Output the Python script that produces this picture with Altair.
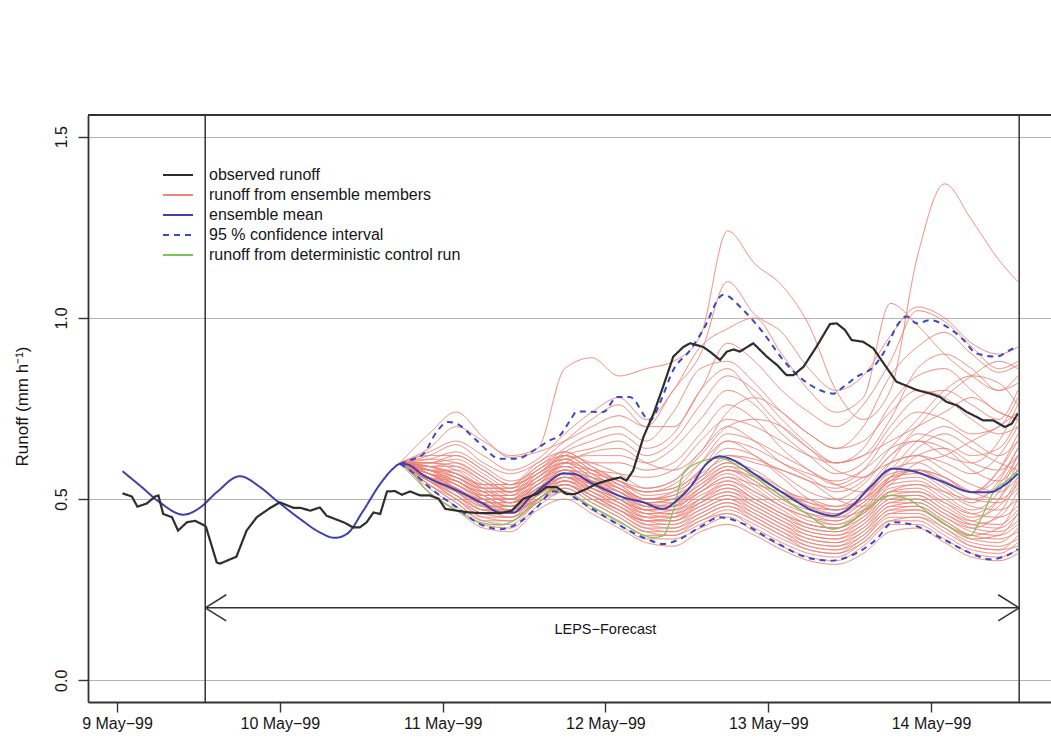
import altair as alt
import pandas as pd

FONT = "Liberation Sans"
INK = "#161616"

# Time axis: hours counted from 9 May 1999, 00:00
day_ticks_h = [0, 24, 48, 72, 96, 120]
day_labels = ["9 May\u221299", "10 May\u221299", "11 May\u221299",
              "12 May\u221299", "13 May\u221299", "14 May\u221299"]
runoff_ticks = [0.0, 0.5, 1.0, 1.5]

series_names = ["observed runoff", "runoff from ensemble members", "ensemble mean",
                "95 % confidence interval", "runoff from deterministic control run"]
series_colors = ["#2e2e2e", "#ee8377", "#3f3fae", "#3c48c4", "#7cc35a"]
series_dashes = [[1, 0], [1, 0], [1, 0], [6, 5], [1, 0]]
series_widths = [2.2, 1.0, 2.0, 2.0, 1.3]

# Observed runoff (mm/h)
obs_t = [0.8, 2.2, 3.0, 4.4, 5.6, 6.1, 6.8, 8.1, 9.0, 10.3,
         11.5, 12.7, 13.1, 14.7, 15.2, 17.6, 19.1, 20.6, 22.6, 24.0,
         26.0, 27.0, 28.5, 29.9, 30.9, 33.4, 34.8, 35.8, 36.8, 37.8,
         38.8, 39.8, 41.0, 42.0, 43.2, 44.7, 46.1, 47.4, 48.4, 50.1,
         52.0, 54.0, 56.5, 58.2, 59.9, 61.9, 63.3, 64.8, 66.3, 67.5,
         69.2, 70.7, 72.2, 74.2, 75.1, 76.1, 77.6, 79.1, 80.5, 82.0,
         83.5, 84.5, 86.4, 87.4, 88.9, 89.9, 90.9, 91.8, 93.8, 95.8,
         97.3, 98.7, 99.7, 101.2, 103.1, 105.1, 106.1, 107.3, 108.3, 110.0,
         111.5, 113.0, 114.9, 117.9, 119.9, 121.3, 122.3, 123.8, 125.3, 126.7,
         127.7, 129.2, 130.9, 131.9, 132.8]
obs_v = [0.516, 0.507, 0.479, 0.488, 0.507, 0.510, 0.459, 0.450, 0.413, 0.436,
         0.440, 0.429, 0.424, 0.325, 0.322, 0.341, 0.413, 0.450, 0.476, 0.491,
         0.476, 0.476, 0.468, 0.477, 0.454, 0.436, 0.422, 0.422, 0.436, 0.463,
         0.459, 0.521, 0.522, 0.512, 0.521, 0.510, 0.510, 0.501, 0.473, 0.468,
         0.463, 0.461, 0.461, 0.468, 0.501, 0.514, 0.533, 0.533, 0.514, 0.514,
         0.528, 0.542, 0.551, 0.560, 0.551, 0.579, 0.671, 0.736, 0.810, 0.893,
         0.920, 0.930, 0.920, 0.907, 0.884, 0.907, 0.913, 0.907, 0.930, 0.893,
         0.870, 0.842, 0.842, 0.865, 0.920, 0.983, 0.985, 0.967, 0.939, 0.934,
         0.916, 0.875, 0.824, 0.801, 0.791, 0.782, 0.768, 0.759, 0.740, 0.727,
         0.717, 0.717, 0.699, 0.708, 0.736]

# Ensemble mean
mean_t = [0.8, 3.4, 6.3, 9.8, 12.2, 14.7, 18.1, 21.1, 23.5, 27.0,
          29.9, 32.1, 33.9, 36.3, 38.8, 40.7, 41.7, 42.7, 45.2, 50.1,
          54.0, 56.5, 58.4, 60.9, 63.3, 65.8, 67.3, 69.7, 72.2, 74.6,
          77.6, 80.5, 82.5, 84.5, 86.9, 88.9, 90.9, 94.3, 99.2, 102.6,
          105.6, 108.1, 111.0, 114.4, 116.9, 121.3, 126.2, 128.7, 130.7, 132.8]
mean_v = [0.577, 0.537, 0.491, 0.457, 0.476, 0.519, 0.563, 0.533, 0.496, 0.445,
          0.408, 0.393, 0.404, 0.468, 0.542, 0.584, 0.597, 0.596, 0.565, 0.524,
          0.487, 0.463, 0.463, 0.505, 0.542, 0.571, 0.570, 0.547, 0.524, 0.505,
          0.491, 0.473, 0.496, 0.533, 0.597, 0.618, 0.607, 0.565, 0.505, 0.468,
          0.454, 0.477, 0.533, 0.584, 0.579, 0.551, 0.519, 0.519, 0.537, 0.570]

# Upper and lower bounds of the 95 % interval
ci_up_t = [41.7, 43.2, 45.2, 47.1, 48.8, 50.1, 53.0, 56.5, 58.9, 61.4,
           63.8, 65.3, 66.8, 67.8, 71.7, 73.7, 75.6, 78.6, 80.0, 82.0,
           84.5, 86.4, 89.4, 92.3, 95.3, 98.2, 101.2, 103.6, 105.6, 107.1,
           109.0, 111.5, 113.5, 114.9, 116.4, 117.9, 119.9, 122.3, 124.8, 126.7,
           129.7, 131.6, 132.8]
ci_up_v = [0.597, 0.607, 0.625, 0.685, 0.713, 0.708, 0.662, 0.611, 0.611, 0.634,
           0.662, 0.676, 0.717, 0.742, 0.740, 0.782, 0.782, 0.717, 0.764, 0.856,
           0.911, 0.967, 1.064, 1.022, 0.958, 0.884, 0.828, 0.801, 0.791, 0.810,
           0.837, 0.865, 0.920, 0.976, 1.004, 0.985, 0.994, 0.976, 0.939, 0.902,
           0.893, 0.911, 0.921]
ci_lo_t = [41.7, 43.2, 46.6, 50.1, 53.5, 56.5, 58.9, 61.9, 64.3, 66.3,
           69.7, 74.6, 78.1, 80.5, 83.0, 85.9, 88.9, 91.8, 96.7, 101.7,
           105.1, 108.1, 112.0, 114.4, 116.9, 121.3, 126.2, 128.7, 131.6, 132.8]
ci_lo_v = [0.597, 0.579, 0.524, 0.477, 0.431, 0.417, 0.431, 0.477, 0.521, 0.514,
           0.477, 0.422, 0.390, 0.376, 0.390, 0.422, 0.450, 0.436, 0.385, 0.339,
           0.330, 0.343, 0.390, 0.436, 0.431, 0.394, 0.348, 0.334, 0.348, 0.362]

# Deterministic control run
ctl_t = [41.7, 43.2, 45.2, 50.1, 53.5, 56.5, 58.4, 61.4, 64.3, 65.8,
         69.7, 74.6, 79.1, 80.5, 82.0, 83.5, 85.9, 88.9, 91.8, 96.7,
         101.7, 105.6, 107.6, 110.5, 114.0, 116.4, 119.9, 123.8, 125.7, 127.2,
         129.2, 131.2, 132.8]
ctl_v = [0.597, 0.579, 0.533, 0.468, 0.436, 0.429, 0.440, 0.487, 0.525, 0.519,
         0.482, 0.431, 0.394, 0.399, 0.468, 0.570, 0.602, 0.613, 0.588, 0.524,
         0.459, 0.417, 0.431, 0.473, 0.510, 0.501, 0.459, 0.413, 0.399, 0.440,
         0.519, 0.551, 0.579]

# Ensemble members, all sampled on the same hours
member_t = [41.7, 46, 50, 54, 58, 62, 66, 70, 74, 78, 82, 86,
            90, 94, 98, 102, 106, 110, 114, 118, 122, 126, 130, 132.8]
member_runs = [
    [0.60, 0.64, 0.70, 0.66, 0.62, 0.64, 0.86, 0.89, 0.84, 0.86, 0.88, 0.95, 1.24, 1.15, 1.09, 0.98, 0.80, 0.72, 0.80, 1.17, 1.37, 1.27, 1.16, 1.10],
    [0.60, 0.68, 0.74, 0.67, 0.615, 0.63, 0.66, 0.70, 0.73, 0.70, 0.80, 0.90, 1.10, 1.01, 0.96, 0.86, 0.80, 0.84, 0.95, 1.03, 1.00, 0.93, 0.90, 0.92],
    [0.60, 0.63, 0.66, 0.62, 0.58, 0.61, 0.68, 0.74, 0.78, 0.72, 0.80, 0.92, 0.97, 1.00, 0.90, 0.80, 0.74, 0.78, 1.04, 0.98, 0.90, 0.84, 0.80, 0.82],
    [0.60, 0.62, 0.65, 0.60, 0.57, 0.60, 0.66, 0.72, 0.76, 0.70, 0.70, 0.80, 0.93, 0.88, 0.80, 0.74, 0.70, 0.76, 0.88, 1.02, 0.99, 0.92, 0.86, 0.88],
    [0.60, 0.61, 0.63, 0.59, 0.55, 0.58, 0.64, 0.68, 0.70, 0.66, 0.74, 0.86, 0.88, 0.82, 0.74, 0.68, 0.64, 0.70, 0.84, 0.92, 0.96, 0.90, 0.85, 0.87],
    [0.60, 0.60, 0.62, 0.58, 0.54, 0.57, 0.62, 0.64, 0.66, 0.62, 0.66, 0.76, 0.84, 0.80, 0.72, 0.65, 0.60, 0.62, 0.72, 0.86, 0.90, 0.86, 0.80, 0.84],
    [0.60, 0.60, 0.61, 0.57, 0.53, 0.56, 0.61, 0.62, 0.62, 0.60, 0.64, 0.72, 0.80, 0.76, 0.68, 0.62, 0.57, 0.60, 0.70, 0.78, 0.80, 0.76, 0.72, 0.80],
    [0.60, 0.59, 0.60, 0.56, 0.52, 0.55, 0.60, 0.60, 0.60, 0.58, 0.60, 0.68, 0.76, 0.72, 0.64, 0.58, 0.54, 0.58, 0.68, 0.74, 0.72, 0.68, 0.70, 0.78],
    [0.60, 0.59, 0.59, 0.55, 0.51, 0.54, 0.59, 0.58, 0.57, 0.56, 0.58, 0.66, 0.72, 0.70, 0.66, 0.62, 0.60, 0.62, 0.66, 0.70, 0.74, 0.78, 0.74, 0.72],
    [0.60, 0.58, 0.58, 0.54, 0.50, 0.53, 0.58, 0.57, 0.55, 0.53, 0.55, 0.63, 0.70, 0.66, 0.60, 0.56, 0.52, 0.55, 0.64, 0.72, 0.80, 0.84, 0.82, 0.76],
    [0.60, 0.58, 0.57, 0.53, 0.49, 0.52, 0.57, 0.56, 0.54, 0.52, 0.53, 0.60, 0.68, 0.66, 0.62, 0.58, 0.54, 0.52, 0.58, 0.66, 0.70, 0.66, 0.62, 0.66],
    [0.60, 0.57, 0.56, 0.52, 0.49, 0.52, 0.56, 0.55, 0.53, 0.50, 0.51, 0.58, 0.66, 0.62, 0.56, 0.50, 0.47, 0.50, 0.60, 0.68, 0.66, 0.62, 0.64, 0.72],
    [0.60, 0.57, 0.55, 0.51, 0.48, 0.51, 0.56, 0.54, 0.52, 0.49, 0.50, 0.56, 0.62, 0.60, 0.58, 0.55, 0.50, 0.48, 0.56, 0.62, 0.64, 0.60, 0.58, 0.62],
    [0.60, 0.56, 0.55, 0.50, 0.47, 0.50, 0.55, 0.53, 0.50, 0.47, 0.48, 0.55, 0.60, 0.58, 0.53, 0.48, 0.45, 0.47, 0.54, 0.60, 0.62, 0.66, 0.70, 0.74],
    [0.60, 0.56, 0.54, 0.50, 0.47, 0.50, 0.55, 0.52, 0.49, 0.46, 0.47, 0.53, 0.58, 0.55, 0.50, 0.46, 0.44, 0.48, 0.55, 0.58, 0.56, 0.52, 0.58, 0.66],
    [0.60, 0.56, 0.53, 0.49, 0.46, 0.50, 0.54, 0.51, 0.48, 0.45, 0.46, 0.52, 0.56, 0.54, 0.52, 0.50, 0.48, 0.50, 0.56, 0.64, 0.68, 0.64, 0.60, 0.58],
    [0.60, 0.55, 0.53, 0.48, 0.46, 0.50, 0.54, 0.51, 0.47, 0.44, 0.45, 0.50, 0.55, 0.52, 0.48, 0.45, 0.43, 0.46, 0.52, 0.54, 0.52, 0.50, 0.54, 0.62],
    [0.60, 0.55, 0.52, 0.48, 0.45, 0.49, 0.54, 0.50, 0.47, 0.44, 0.44, 0.49, 0.53, 0.50, 0.46, 0.43, 0.42, 0.45, 0.51, 0.52, 0.49, 0.46, 0.50, 0.58],
    [0.60, 0.60, 0.59, 0.55, 0.52, 0.56, 0.62, 0.60, 0.57, 0.53, 0.55, 0.62, 0.70, 0.72, 0.70, 0.64, 0.58, 0.56, 0.62, 0.70, 0.78, 0.84, 0.88, 0.86],
    [0.60, 0.61, 0.60, 0.56, 0.52, 0.55, 0.60, 0.63, 0.64, 0.60, 0.58, 0.63, 0.74, 0.78, 0.74, 0.68, 0.64, 0.66, 0.74, 0.80, 0.78, 0.72, 0.68, 0.70],
    [0.60, 0.62, 0.62, 0.58, 0.54, 0.57, 0.63, 0.66, 0.68, 0.64, 0.68, 0.80, 0.86, 0.78, 0.70, 0.64, 0.60, 0.64, 0.76, 0.84, 0.86, 0.80, 0.74, 0.72],
    [0.60, 0.59, 0.57, 0.53, 0.50, 0.54, 0.60, 0.58, 0.55, 0.52, 0.54, 0.60, 0.66, 0.64, 0.60, 0.57, 0.55, 0.58, 0.64, 0.66, 0.62, 0.60, 0.66, 0.76],
    [0.60, 0.58, 0.56, 0.52, 0.49, 0.53, 0.58, 0.56, 0.53, 0.50, 0.52, 0.58, 0.64, 0.62, 0.57, 0.52, 0.50, 0.54, 0.62, 0.66, 0.64, 0.58, 0.55, 0.60],
    [0.60, 0.57, 0.55, 0.51, 0.48, 0.52, 0.57, 0.55, 0.52, 0.49, 0.50, 0.56, 0.62, 0.61, 0.58, 0.55, 0.53, 0.56, 0.60, 0.62, 0.60, 0.57, 0.62, 0.70],
    [0.60, 0.57, 0.54, 0.50, 0.48, 0.52, 0.57, 0.54, 0.51, 0.48, 0.49, 0.54, 0.59, 0.57, 0.53, 0.49, 0.47, 0.50, 0.56, 0.58, 0.55, 0.52, 0.56, 0.64],
    [0.60, 0.56, 0.53, 0.49, 0.47, 0.51, 0.56, 0.53, 0.50, 0.47, 0.48, 0.53, 0.58, 0.56, 0.52, 0.48, 0.46, 0.49, 0.55, 0.58, 0.56, 0.52, 0.50, 0.54],
    [0.60, 0.52, 0.47, 0.42, 0.41, 0.47, 0.50, 0.46, 0.42, 0.38, 0.37, 0.41, 0.43, 0.40, 0.36, 0.33, 0.32, 0.35, 0.41, 0.42, 0.38, 0.34, 0.33, 0.35],
    [0.60, 0.53, 0.48, 0.43, 0.42, 0.48, 0.52, 0.47, 0.43, 0.39, 0.39, 0.42, 0.45, 0.41, 0.37, 0.34, 0.33, 0.37, 0.43, 0.43, 0.39, 0.35, 0.34, 0.36],
    [0.60, 0.54, 0.49, 0.44, 0.43, 0.49, 0.52, 0.48, 0.44, 0.40, 0.40, 0.43, 0.46, 0.42, 0.38, 0.35, 0.34, 0.38, 0.44, 0.44, 0.40, 0.36, 0.35, 0.38],
    [0.60, 0.54, 0.49, 0.44, 0.44, 0.49, 0.53, 0.49, 0.45, 0.41, 0.40, 0.44, 0.46, 0.43, 0.39, 0.36, 0.35, 0.38, 0.44, 0.45, 0.41, 0.37, 0.36, 0.37],
    [0.60, 0.54, 0.50, 0.45, 0.44, 0.50, 0.53, 0.49, 0.45, 0.41, 0.41, 0.44, 0.47, 0.44, 0.40, 0.36, 0.35, 0.39, 0.45, 0.45, 0.42, 0.37, 0.36, 0.40],
    [0.60, 0.55, 0.50, 0.45, 0.45, 0.50, 0.54, 0.50, 0.46, 0.42, 0.41, 0.45, 0.48, 0.44, 0.40, 0.37, 0.36, 0.39, 0.46, 0.46, 0.42, 0.38, 0.37, 0.39],
    [0.60, 0.55, 0.50, 0.46, 0.45, 0.51, 0.54, 0.50, 0.46, 0.42, 0.42, 0.45, 0.48, 0.45, 0.41, 0.37, 0.36, 0.40, 0.46, 0.47, 0.43, 0.39, 0.38, 0.42],
    [0.60, 0.55, 0.51, 0.46, 0.46, 0.51, 0.55, 0.51, 0.47, 0.43, 0.42, 0.46, 0.49, 0.45, 0.41, 0.38, 0.37, 0.40, 0.47, 0.47, 0.43, 0.39, 0.40, 0.46],
    [0.60, 0.55, 0.51, 0.47, 0.46, 0.52, 0.55, 0.51, 0.47, 0.43, 0.43, 0.46, 0.49, 0.46, 0.42, 0.38, 0.37, 0.41, 0.47, 0.48, 0.44, 0.40, 0.39, 0.41],
    [0.60, 0.56, 0.51, 0.47, 0.47, 0.52, 0.56, 0.52, 0.48, 0.44, 0.43, 0.47, 0.50, 0.46, 0.42, 0.39, 0.38, 0.41, 0.48, 0.48, 0.44, 0.40, 0.42, 0.50],
    [0.60, 0.56, 0.52, 0.47, 0.47, 0.53, 0.56, 0.52, 0.48, 0.44, 0.44, 0.47, 0.50, 0.47, 0.43, 0.39, 0.38, 0.42, 0.48, 0.49, 0.45, 0.41, 0.40, 0.43],
    [0.60, 0.56, 0.52, 0.48, 0.48, 0.53, 0.57, 0.53, 0.49, 0.45, 0.44, 0.48, 0.51, 0.47, 0.43, 0.40, 0.39, 0.42, 0.49, 0.49, 0.45, 0.42, 0.46, 0.55],
    [0.60, 0.56, 0.52, 0.48, 0.48, 0.54, 0.57, 0.53, 0.49, 0.45, 0.45, 0.48, 0.51, 0.48, 0.44, 0.40, 0.39, 0.43, 0.49, 0.50, 0.46, 0.42, 0.41, 0.44],
    [0.60, 0.57, 0.53, 0.49, 0.49, 0.54, 0.58, 0.54, 0.50, 0.46, 0.45, 0.49, 0.52, 0.48, 0.44, 0.41, 0.40, 0.43, 0.50, 0.50, 0.46, 0.43, 0.45, 0.52],
    [0.60, 0.57, 0.53, 0.49, 0.49, 0.55, 0.58, 0.54, 0.50, 0.46, 0.46, 0.49, 0.52, 0.49, 0.45, 0.41, 0.40, 0.44, 0.50, 0.51, 0.47, 0.43, 0.42, 0.46],
    [0.60, 0.57, 0.53, 0.50, 0.50, 0.55, 0.59, 0.55, 0.51, 0.47, 0.46, 0.50, 0.53, 0.49, 0.45, 0.42, 0.41, 0.44, 0.51, 0.51, 0.47, 0.44, 0.50, 0.60],
    [0.60, 0.57, 0.54, 0.50, 0.50, 0.56, 0.59, 0.55, 0.51, 0.47, 0.47, 0.50, 0.54, 0.50, 0.46, 0.42, 0.41, 0.45, 0.52, 0.52, 0.48, 0.44, 0.43, 0.47],
    [0.60, 0.58, 0.54, 0.51, 0.51, 0.56, 0.60, 0.56, 0.52, 0.48, 0.47, 0.51, 0.54, 0.50, 0.46, 0.43, 0.42, 0.46, 0.52, 0.53, 0.49, 0.45, 0.48, 0.56],
    [0.60, 0.58, 0.55, 0.51, 0.51, 0.57, 0.60, 0.56, 0.52, 0.48, 0.48, 0.52, 0.55, 0.51, 0.47, 0.43, 0.42, 0.46, 0.53, 0.54, 0.50, 0.46, 0.45, 0.48],
    [0.60, 0.58, 0.55, 0.52, 0.52, 0.57, 0.61, 0.57, 0.53, 0.49, 0.48, 0.52, 0.56, 0.52, 0.48, 0.44, 0.43, 0.47, 0.54, 0.55, 0.51, 0.47, 0.52, 0.62],
    [0.60, 0.58, 0.56, 0.52, 0.52, 0.58, 0.61, 0.57, 0.53, 0.49, 0.49, 0.53, 0.57, 0.53, 0.48, 0.45, 0.44, 0.48, 0.55, 0.56, 0.52, 0.48, 0.47, 0.50],
    [0.60, 0.59, 0.56, 0.53, 0.53, 0.58, 0.62, 0.58, 0.54, 0.50, 0.50, 0.54, 0.58, 0.54, 0.49, 0.46, 0.45, 0.49, 0.56, 0.57, 0.53, 0.49, 0.55, 0.64],
    [0.60, 0.59, 0.57, 0.53, 0.53, 0.59, 0.62, 0.58, 0.54, 0.50, 0.51, 0.55, 0.59, 0.55, 0.50, 0.47, 0.46, 0.50, 0.57, 0.58, 0.54, 0.50, 0.49, 0.53],
    [0.60, 0.59, 0.57, 0.54, 0.54, 0.59, 0.63, 0.59, 0.55, 0.51, 0.52, 0.56, 0.60, 0.56, 0.51, 0.48, 0.47, 0.51, 0.58, 0.60, 0.56, 0.52, 0.58, 0.68],
    [0.60, 0.60, 0.58, 0.54, 0.54, 0.60, 0.63, 0.59, 0.55, 0.52, 0.53, 0.57, 0.61, 0.57, 0.52, 0.49, 0.48, 0.52, 0.60, 0.62, 0.58, 0.54, 0.52, 0.56],
]

# Forecast window and its annotation
FORECAST_START_H = 13
FORECAST_END_H = 133
ARROW_V = 0.20
HEAD_DT = 3.1
HEAD_DV = 0.036
FORECAST_LABEL = "LEPS\u2212Forecast"
FORECAST_LABEL_T = 72
FORECAST_LABEL_V = 0.14


def frame(ts, vs, series, line):
    return pd.DataFrame({"t": ts, "v": vs, "series": series, "line": line})


members_df = pd.concat(
    [frame(member_t, run, series_names[1], f"member {i + 1}") for i, run in enumerate(member_runs)],
    ignore_index=True,
)
obs_df = frame(obs_t, obs_v, series_names[0], "observed")
mean_df = frame(mean_t, mean_v, series_names[2], "mean")
ci_df = pd.concat([frame(ci_up_t, ci_up_v, series_names[3], "upper"),
                   frame(ci_lo_t, ci_lo_v, series_names[3], "lower")], ignore_index=True)
ctl_df = frame(ctl_t, ctl_v, series_names[4], "control")

label_js = "[" + ",".join(f"'{s}'" for s in day_labels) + "][round(datum.value / 24)]"

x_enc = alt.X(
    "t:Q",
    scale=alt.Scale(domain=[-4.28, 137.69], nice=False, zero=False),
    axis=alt.Axis(values=day_ticks_h, labelExpr=label_js, title=None, grid=False,
                  tickSize=10, tickWidth=1.4, tickColor="#333333",
                  domainColor="#333333", domainWidth=1.8,
                  labelFont=FONT, labelFontSize=16, labelColor=INK, labelPadding=3,
                  labelFlush=False, labelOverlap=False),
)
y_enc = alt.Y(
    "v:Q",
    scale=alt.Scale(domain=[-0.06, 1.56], nice=False, zero=False),
    axis=alt.Axis(values=runoff_ticks, format=".1f", title="Runoff (mm h\u207b\u00b9)",
                  grid=True, gridColor="#b4b4b4", gridWidth=1,
                  tickSize=10, tickWidth=1.4, tickColor="#333333",
                  domainColor="#333333", domainWidth=1.8,
                  labelAngle=270, labelAlign="center", labelBaseline="bottom", labelPadding=9,
                  labelFont=FONT, labelFontSize=16, labelColor=INK, labelFlush=False,
                  titleFont=FONT, titleFontSize=17, titleFontWeight="normal", titleColor=INK,
                  titleAngle=270, titleAlign="center", titleBaseline="alphabetic",
                  titleX=-61, titleY=291),
)

legend = alt.Legend(
    title=None, orient="none", legendX=75, legendY=52, padding=0,
    symbolType="M-3,0H3", symbolSize=100, symbolOffset=7, symbolStrokeWidth=1.8,
    labelFont=FONT, labelFontSize=16, labelColor=INK, labelOffset=23, labelLimit=0,
    rowPadding=4,
)
color_enc = alt.Color("series:N", scale=alt.Scale(domain=series_names, range=series_colors), legend=legend)
dash_enc = alt.StrokeDash("series:N", scale=alt.Scale(domain=series_names, range=series_dashes), legend=legend)


def series_layer(df, width, interp):
    return alt.Chart(df).mark_line(strokeWidth=width, interpolate=interp).encode(
        x=x_enc, y=y_enc, color=color_enc, strokeDash=dash_enc, detail="line:N"
    )


members_layer = series_layer(members_df, series_widths[1], "monotone")
ctl_layer = series_layer(ctl_df, series_widths[4], "monotone")
ci_layer = series_layer(ci_df, series_widths[3], "monotone")
mean_layer = series_layer(mean_df, series_widths[2], "monotone")
obs_layer = series_layer(obs_df, series_widths[0], "linear")

# Frame line along the top of the plot
top_frame = alt.Chart(pd.DataFrame({"k": [0]})).mark_rule(color="#333333", strokeWidth=1.8).encode(
    y=alt.value(0)
)

# Start and end of the forecast window
window_df = pd.DataFrame({"t": [FORECAST_START_H, FORECAST_END_H]})
window_lines = alt.Chart(window_df).mark_rule(color="#333333", strokeWidth=1.5).encode(x=x_enc)

shaft_df = pd.DataFrame({"t": [FORECAST_START_H], "t2": [FORECAST_END_H], "v": [ARROW_V]})
shaft = alt.Chart(shaft_df).mark_rule(color="#333333", strokeWidth=1.5).encode(
    x=x_enc, x2="t2:Q", y=y_enc
)
heads_df = pd.DataFrame({
    "t": [FORECAST_START_H] * 2 + [FORECAST_END_H] * 2,
    "v": [ARROW_V] * 4,
    "t2": [FORECAST_START_H + HEAD_DT] * 2 + [FORECAST_END_H - HEAD_DT] * 2,
    "v2": [ARROW_V + HEAD_DV, ARROW_V - HEAD_DV] * 2,
})
heads = alt.Chart(heads_df).mark_rule(color="#333333", strokeWidth=1.5).encode(
    x=x_enc, x2="t2:Q", y=y_enc, y2="v2:Q"
)
label_df = pd.DataFrame({"t": [FORECAST_LABEL_T], "v": [FORECAST_LABEL_V], "text": [FORECAST_LABEL]})
label = alt.Chart(label_df).mark_text(font=FONT, fontSize=14.5, color=INK, baseline="middle").encode(
    x=x_enc, y=y_enc, text="text:N"
)

chart = alt.layer(
    members_layer, ctl_layer, ci_layer, mean_layer, obs_layer,
    window_lines, shaft, heads, label, top_frame,
).properties(
    width=963, height=587,
    autosize=alt.AutoSizeParams(type="none"),
    padding={"left": 88, "top": 115, "right": 0, "bottom": 41},
    background="white",
).configure_view(stroke=None)

chart.save("out.html", embed_options={"renderer": "svg", "actions": False})
